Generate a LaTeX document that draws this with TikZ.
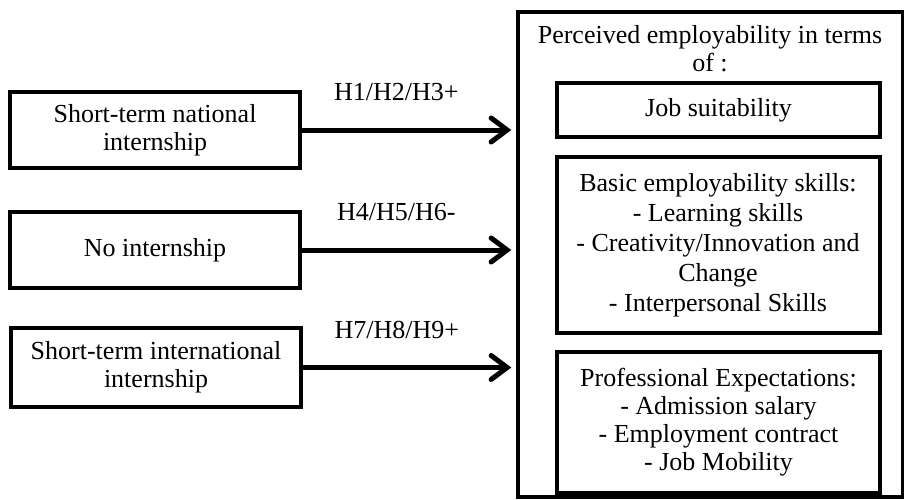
\documentclass[tikz,border=0pt]{standalone}
\usepackage{fontspec}
\setmainfont{Liberation Serif}
\usetikzlibrary{arrows.meta,positioning}

\begin{document}
\begin{tikzpicture}[x=0.5pt, y=-0.5pt, font=\fontsize{13}{14}\selectfont]
    % Define colours
    \definecolor{borderColour}{HTML}{000000}

    % Define styles
    \tikzset{
        leftBox/.style={draw=borderColour, line width=2pt, minimum width=145pt, minimum height=38pt, align=center, inner sep=2pt},
        innerBox/.style={draw=borderColour, line width=2pt, minimum width=161.5pt, align=center, inner sep=2pt},
        hypArrow/.style={draw=borderColour, line width=2.5pt, -{Straight Barb[length=8pt, width=12pt, line cap=round]}, shorten >=2.5pt},
        hypLabel/.style={above=10pt, pos=0.44}
    }

    % Fix picture size
    \useasboundingbox (0,0) rectangle (904,499);

    % Internship types
    \node[leftBox] (nat) at (155,130) {Short-term national\\internship};
    \node[leftBox] (none) at (155,250) {No internship};
    \node[leftBox, minimum height=39.5pt] (intl) at (156,367.5) {Short-term international\\internship};

    % Perceived employability
    \node[draw=borderColour, line width=1.7pt, minimum width=192.5pt, minimum height=242.5pt] (perc) at (710.5,254.5) {};
    \node[align=center] (title) at (710,49) {Perceived employability in terms\\of :};
    \node[innerBox, minimum height=27pt] (job) at (718.5,110) {Job suitability};
    \node[innerBox, minimum height=88pt, font=\fontsize{13}{15}\selectfont] (basic) at (718,245)
        {Basic employability skills:\\- Learning skills\\- Creativity/Innovation and\\Change\\- Interpersonal Skills};
    \node[innerBox, minimum height=70.5pt] (prof) at (718.5,422.5)
        {Professional Expectations:\\- Admission salary\\- Employment contract\\- Job Mobility};

    % Hypotheses
    \draw[hypArrow] (nat.east) -- (nat.east -| perc.west) node[hypLabel] {H1/H2/H3+};
    \draw[hypArrow] (none.east) -- (none.east -| perc.west) node[hypLabel] {H4/H5/H6-};
    \draw[hypArrow] (intl.east) -- (intl.east -| perc.west) node[hypLabel] {H7/H8/H9+};

\end{tikzpicture}
\end{document}
